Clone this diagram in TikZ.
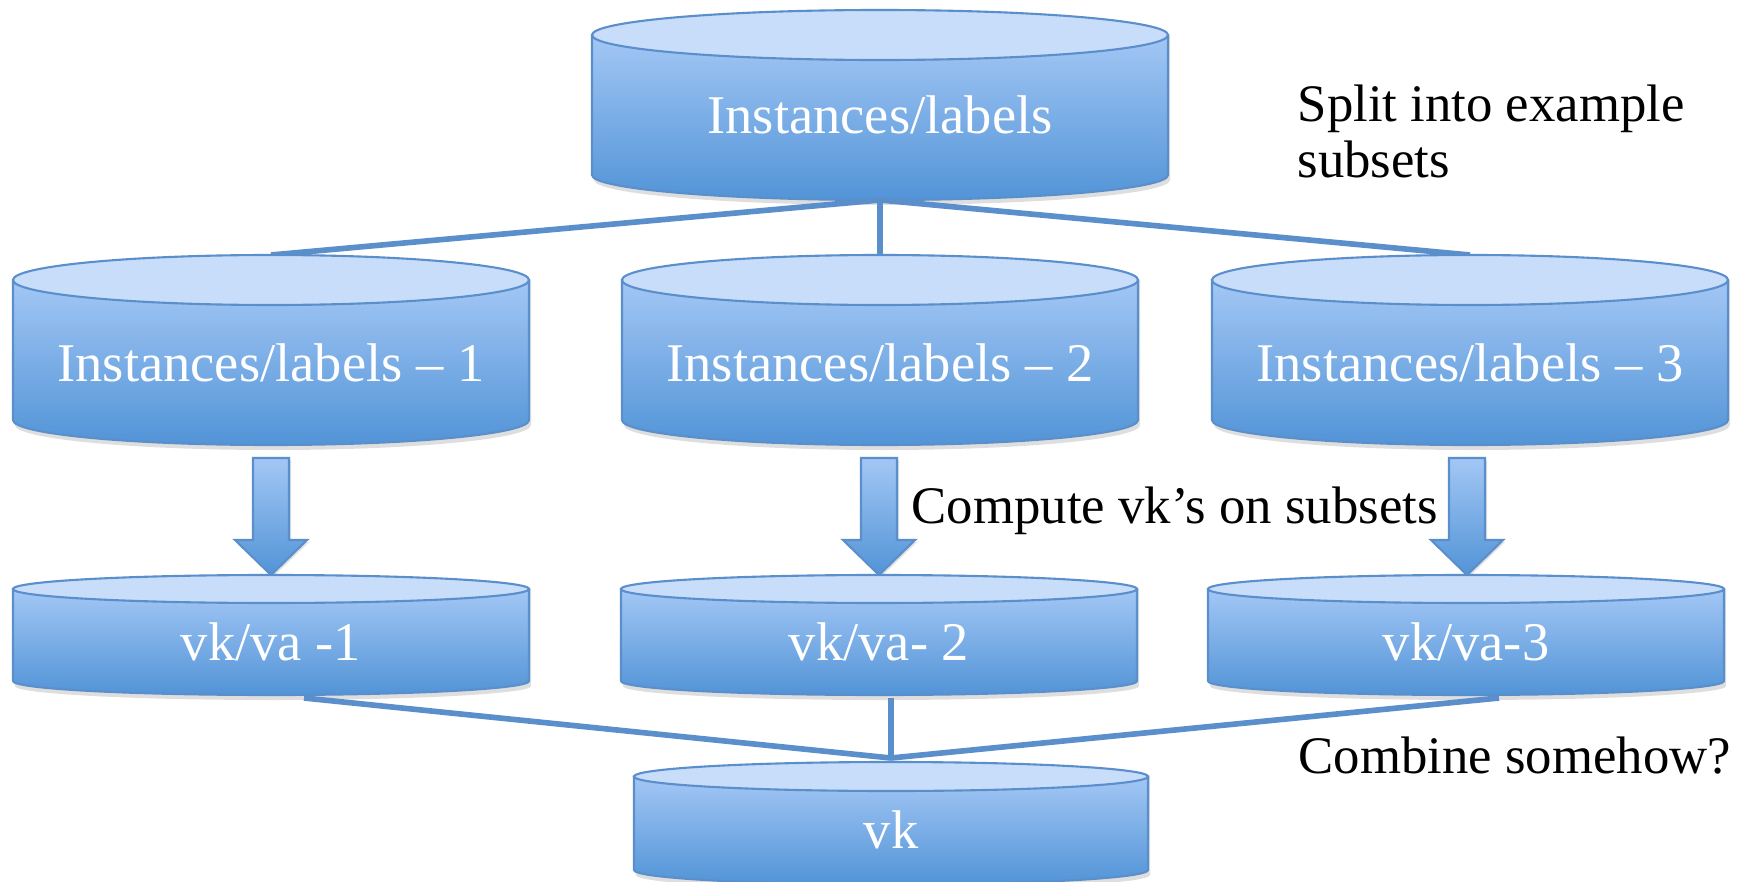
\documentclass[tikz,border=0pt]{standalone}
\usepackage{fontspec}
\setmainfont{Liberation Serif}
\definecolor{cyltop}{HTML}{A3C7F5}
\definecolor{cylbot}{HTML}{5294D7}
\definecolor{cyllid}{HTML}{C7DDFA}
\definecolor{cyledge}{HTML}{5B8FCB}
\definecolor{linkcol}{HTML}{5B8FCB}
\newcommand\dbcyl[6]{%
  \fill[black,opacity=0.13] ({#1-#4+2},{#2}) -- ({#1-#4+2},{#3-5}) arc[start angle=180,end angle=360,x radius=#4,y radius=#5] -- ({#1+#4+2},{#2}) -- cycle;
  \shade[top color=cyltop,bottom color=cylbot,draw=cyledge,line width=0.6pt] ({#1-#4},{#2}) -- ({#1-#4},{#3}) arc[start angle=180,end angle=360,x radius=#4,y radius=#5] -- ({#1+#4},{#2}) -- cycle;
  \draw[cyledge,fill=cyllid,line width=0.6pt] (#1,#2) ellipse[x radius=#4,y radius=#5];
  \coordinate (#6-top) at (#1,{#2+#5});
  \coordinate (#6-bot) at (#1,{#3-#5});
}
\newcommand\blockarrow[2]{%
  \fill[black,opacity=0.12] ({#1-18+2},421) -- ({#1+18+2},421) -- ({#1+18+2},339) -- ({#1+36+2},339) -- ({#1+2},304) -- ({#1-36+2},339) -- ({#1-18+2},339) -- cycle;
  \shade[top color=cyltop,bottom color=cylbot,draw=cyledge,line width=0.6pt] ({#1-18},423) -- ({#1+18},423) -- ({#1+18},341) -- ({#1+36},341) -- (#1,306) -- ({#1-36},341) -- ({#1-18},341) -- cycle;
  \coordinate (#2) at (#1,306);
}
\tikzset{
  cyltxt/.style={text=white,font=\fontsize{15.5}{18.6}\selectfont,inner sep=0pt,anchor=base},
  plaintxt/.style={text=black,font=\fontsize{15}{16.2}\selectfont,inner sep=0pt,anchor=base west,align=left},
  link/.style={draw=linkcol,line width=1.6pt}
}
\begin{document}
\begin{tikzpicture}[x=0.01cm,y=0.01cm]
\useasboundingbox (0,0) rectangle (1748,881);
\fill[white] (0,0) rectangle (1748,881);
\coordinate (join) at (891,123);
% top cylinder
\dbcyl{880}{846}{706}{288}{25}{c0}
\node[cyltxt] (t0) at (880,747) {Instances/labels};
% links from top
\coordinate (c1t) at (271,626);
\coordinate (c2t) at (880,626);
\coordinate (c3t) at (1470,626);
\draw[link] (c0-bot) -- (c1t);
\draw[link] (c0-bot) -- (c2t);
\draw[link] (c0-bot) -- (c3t);
% row 2
\dbcyl{271}{601}{461}{258}{25}{c1}
\dbcyl{880}{601}{461}{258}{25}{c2}
\dbcyl{1470}{601}{461}{258}{25}{c3}
\node[cyltxt] (t1) at (271,500) {Instances/labels – 1};
\node[cyltxt] (t2) at (880,500) {Instances/labels – 2};
\node[cyltxt] (t3) at (1470,500) {Instances/labels – 3};
% arrows
\blockarrow{271}{a1}
\blockarrow{879}{a2}
\blockarrow{1467}{a3}
% row 3
\dbcyl{271}{292}{200}{258}{14}{d1}
\dbcyl{879}{292}{200}{258}{14}{d2}
\dbcyl{1466}{292}{200}{258}{14}{d3}
\node[cyltxt] (u1) at (271,221) {vk/va -1};
\node[cyltxt] (u2) at (879,221) {vk/va- 2};
\node[cyltxt] (u3) at (1466,221) {vk/va-3};
% links to bottom
\coordinate (d1s) at (304,183);
\coordinate (d2s) at (891,183);
\coordinate (d3s) at (1499,183);
\draw[link] (d1s) -- (join);
\draw[link] (d2s) -- (join);
\draw[link] (d3s) -- (join);
% bottom cylinder
\dbcyl{891}{104.5}{11}{257}{14.5}{e}
\node[cyltxt] (v) at (891,33) {vk};
% side texts
\node[plaintxt] (split) at (1297,703) {Split into example\\subsets};
\node[plaintxt] (compute) at (911,358) {Compute vk’s on subsets};
\node[plaintxt] (combine) at (1298,108) {Combine somehow?};
\end{tikzpicture}
\end{document}
